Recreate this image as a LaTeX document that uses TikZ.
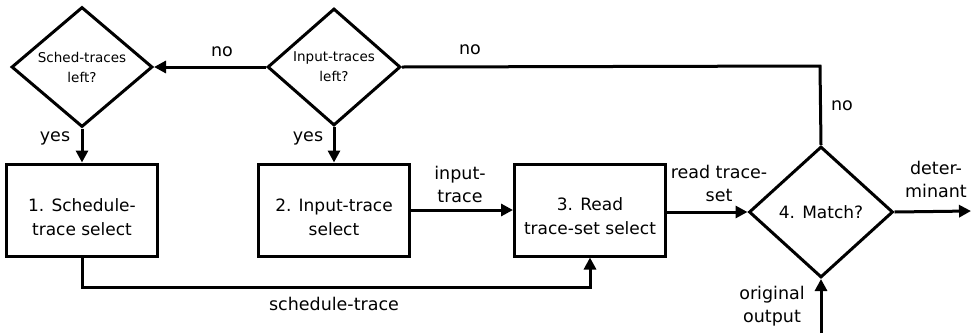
\documentclass[tikz,border=0pt]{standalone}
\usepackage{fontspec}
\setmainfont{DejaVu Sans}
\usetikzlibrary{shapes.geometric,arrows.meta}
\begin{document}
\begin{tikzpicture}[x=1pt,y=-1pt,
  line width=3pt,
  arr/.style={-{Triangle[length=12pt,width=12pt]}},
  proc/.style={draw,rectangle,minimum width=151pt,minimum height=92pt,inner sep=0pt},
  ptext/.style={align=center,inner sep=0pt,font=\fontsize{17}{24}\selectfont},
  dec/.style={draw,diamond,inner sep=0pt,align=center},
  lbl/.style={align=center,font=\fontsize{17.5}{23}\selectfont,inner sep=0pt}]
\useasboundingbox (0,0) rectangle (972,333);
% decisions
\node[dec,minimum width=141pt,minimum height=120pt,font=\fontsize{13.5}{20}\selectfont] (d1) at (82,67) {Sched-traces\\left?};
\node[dec,minimum width=133pt,minimum height=117pt,font=\fontsize{13.5}{20}\selectfont] (d2) at (334,67) {Input-traces\\left?};
\node[dec,minimum width=144pt,minimum height=131pt,font=\fontsize{17}{24}\selectfont] (d4) at (821,212) {4. Match?};
% process boxes
\node[proc] (b1) at (82,210) {};
\node[proc] (b2) at (334,210) {};
\node[proc] (b3) at (590,210) {};
\node[ptext] (t1) at ([yshift=-7pt]b1.center) {1. Schedule-\\trace select};
\node[ptext] (t2) at ([yshift=-7pt]b2.center) {2. Input-trace\\select};
\node[ptext] (t3) at ([yshift=-6pt]b3.center) {3. Read\\trace-set select};
% helper coordinates
\coordinate (corner) at (820,66);
\coordinate (outR) at (971,211);
\coordinate (inB) at (821,333);
% connectors
\draw[arr] (d2.west) -- (d1.east);
\draw (d2.east) -- (corner) -- (d4.north);
\draw[arr] (d1.south) -- (b1.north);
\draw[arr] (d2.south) -- (b2.north);
\draw[arr] (b2.east) -- (b3.west);
\draw[arr] (b3.east |- d4.west) -- (d4.west);
\draw[arr] (d4.east) -- (outR);
\draw[arr] (inB) -- (d4.south);
\draw[arr] (b1.south) -- ++(0,30) -| (b3.south);
% labels
\node[lbl] (l1) at (222,52) {no};
\node[lbl] (l2) at (470,50) {no};
\node[lbl] (l3) at (842,106) {no};
\node[lbl] (l4) at (55,138) {yes};
\node[lbl] (l5) at (308,138) {yes};
\node[lbl] (l6) at (460,184) {input-\\trace};
\node[lbl] (l7) at (719,183) {read trace-\\set};
\node[lbl] (l8) at (936,179) {deter-\\minant};
\node[lbl] (l9) at (772,306) {original\\output};
\node[lbl] (l10) at (334,304) {schedule-trace};
\end{tikzpicture}
\end{document}
